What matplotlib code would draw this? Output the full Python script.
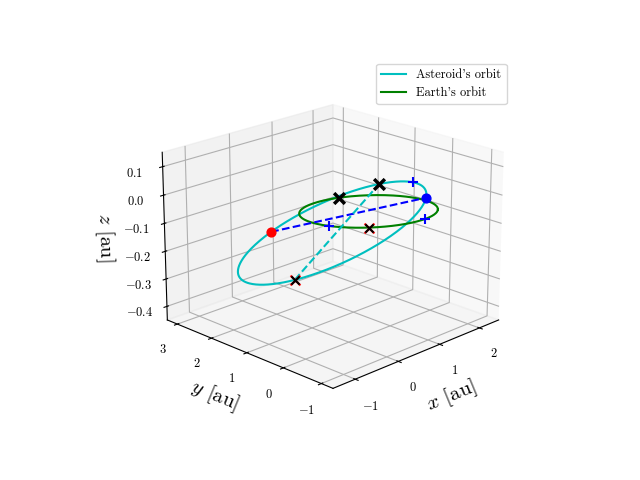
import numpy as np
import matplotlib.pyplot as plt

plt.rcParams['mathtext.fontset'] = 'cm'
plt.rcParams['font.family'] = 'serif'
plt.rcParams['font.serif'] = ['cmr10']
plt.rcParams['axes.unicode_minus'] = False

earth_r = 1.2
depth_scale = 0.71
shift_h, shift_z = 0.34, 0.01
# asteroid orbit (in units of earth_r, z in au)
centre_h, centre_z = -0.53, -0.07
semi_a, semi_b = 1.36, 1.3
tilt_a, tilt_b = 0.12, 0.05

# marked asteroid positions (parameter angle, deg)
t_red, t_blue, t_cross, t_bigx, t_plus = 134.0, -4.0, 250.0, 62.0, 32.0
# marked Earth positions (deg)
p_bigx, p_redx = 118.0, 272.0
p_plus = [238.0, -35.0]

h = np.array([0.71, -0.71, 0.0])
d = np.array([0.71, 0.71, 0.0]) * depth_scale
zh = np.array([0.0, 0.0, 1.0])
origin = (shift_h * h + shift_z * zh)[:, None]


def ast(t):
    t = np.radians(np.atleast_1d(t))[None, :]
    c = (centre_h * earth_r * h + centre_z * zh)[:, None]
    return (origin + c + np.cos(t) * (semi_a * earth_r * h + tilt_a * zh)[:, None]
            + np.sin(t) * (semi_b * earth_r * d + tilt_b * zh)[:, None])


def earth(p):
    p = np.radians(np.atleast_1d(p))[None, :]
    return origin + earth_r * (np.cos(p) * h[:, None] + np.sin(p) * d[:, None])


fig = plt.figure(figsize=(6.4, 4.8))
ax = fig.add_subplot(projection='3d')
ax.view_init(elev=20, azim=-135)

ax.plot(*ast(np.linspace(0, 360, 400)), 'c', label="Asteroid's orbit")
ax.plot(*earth(np.linspace(0, 360, 300)), 'g', label="Earth's orbit")

red_dot = ast(t_red)[:, 0]
blue_dot = ast(t_blue)[:, 0]
cross = ast(t_cross)[:, 0]
bigx = [earth(p_bigx)[:, 0], ast(t_bigx)[:, 0]]
redx = earth(p_redx)[:, 0]
plus = [earth(p)[:, 0] for p in p_plus] + [ast(t_plus)[:, 0]]

ax.plot(*zip(red_dot, blue_dot), 'b--')
ax.plot(*zip(cross, bigx[1]), 'c--')
ax.scatter(*red_dot, color='r', s=40, depthshade=False)
ax.scatter(*blue_dot, color='b', s=40, depthshade=False)
for p in bigx:
    ax.scatter(*p, marker='x', color='k', s=60, linewidths=2.5, depthshade=False)
for p in [redx, cross]:
    ax.scatter(*p, marker='x', color='r', s=50, linewidths=1.5, depthshade=False)
    ax.scatter(*p, marker='x', color='k', s=35, linewidths=1.5, depthshade=False)
for p in plus:
    ax.scatter(*p, marker='+', color='b', s=60, linewidths=1.5, depthshade=False)

ax.set_xlim(-1.5, 2.5)
ax.set_ylim(-1.3, 3.3)
ax.set_zlim(-0.45, 0.15)
ax.set_xticks([-1, 0, 1, 2])
ax.set_yticks([-1, 0, 1, 2, 3])
ax.set_zticks([-0.4, -0.3, -0.2, -0.1, 0.0, 0.1])
ax.set_zticklabels(['$-0.4$', '$-0.3$', '$-0.2$', '$-0.1$', '$0.0$', '$0.1$'])
ax.set_xticklabels(['$-1$', '$0$', '$1$', '$2$'])
ax.set_yticklabels(['$-1$', '$0$', '$1$', '$2$', '$3$'])
ax.tick_params(labelsize=9)
ax.set_xlabel('$x$ [au]', fontsize=15)
ax.set_ylabel('$y$ [au]', fontsize=15)
ax.set_zlabel('$z$ [au]', fontsize=15)
ax.legend(loc='upper right', fontsize=9)
fig.savefig('out.png', dpi=100)
